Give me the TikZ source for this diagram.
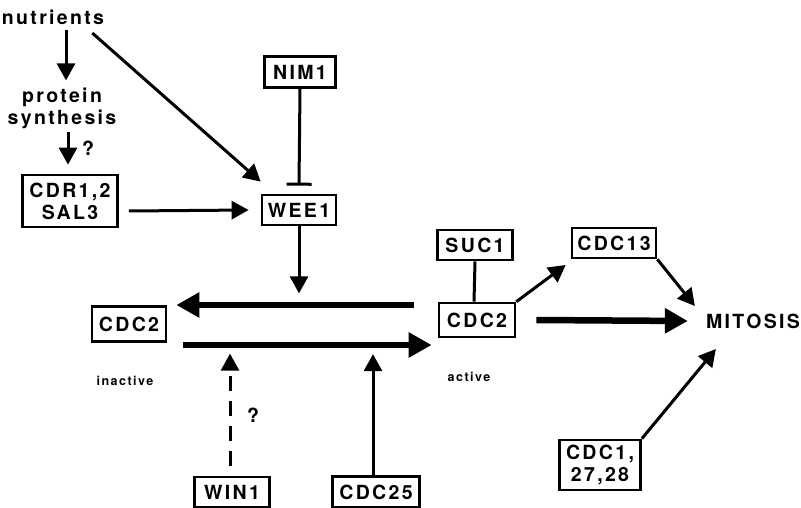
\documentclass[tikz,border=0pt]{standalone}
\usepackage{fontspec}
\setmainfont{TeX Gyre Heros}[LetterSpace=12]
\usetikzlibrary{arrows.meta}
\begin{document}
\begin{tikzpicture}[x=1pt,y=1pt,
  lbl/.style={font=\fontsize{19.5}{22}\selectfont\bfseries, inner sep=0pt, align=center},
  small/.style={font=\fontsize{12.5}{14}\selectfont\bfseries, inner sep=0pt},
  gene/.style={lbl, draw, line width=2.7pt, minimum width=#1},
  arr/.style={line width=3pt, -{Triangle[length=17pt,width=18pt]}},
  bigarr/.style={line width=6.5pt, -{Triangle[length=23pt,width=24pt]}},
  dasharr/.style={arr, dash pattern=on 15pt off 10pt},
  inhib/.style={line width=3pt, -{Bar[width=25pt,line width=3pt]}},
  plain/.style={line width=3pt}]
\useasboundingbox (0,0) rectangle (801,-508);

% labels and gene boxes
\node[lbl] (nut) at (53,-17) {nutrients};
\node[lbl] (prot) at (62,-108) {protein\\synthesis};
\node[lbl] (q1) at (88,-148) {?};
\node[gene=95pt, minimum height=52pt] (cdr) at (70,-201) {CDR1,2\\SAL3};
\node[gene=71pt, minimum height=31pt] (nim) at (300,-72) {NIM1};
\node[gene=74pt, minimum height=30pt] (wee) at (299,-210) {WEE1};
\node[gene=74pt, minimum height=35pt] (cdci) at (129,-324) {CDC2};
\node[small] (inact) at (125,-381) {inactive};
\node[gene=75pt, minimum height=30pt] (suc) at (475,-245) {SUC1};
\node[gene=76pt, minimum height=34pt] (cdca) at (477,-320) {CDC2};
\node[small] (act) at (469,-377) {active};
\node[gene=84pt, minimum height=30pt] (c13) at (614,-243) {CDC13};
\node[lbl] (mit) at (753,-321) {MITOSIS};
\node[gene=81pt, minimum height=50pt] (c1) at (600,-465) {CDC1,\\27,28};
\node[gene=75pt, minimum height=30pt] (win) at (232,-492) {WIN1};
\node[lbl] (q2) at (253,-415) {?};
\node[gene=87pt, minimum height=31pt] (c25) at (376,-492) {CDC25};

% upstream regulation of WEE1
\draw[arr] ([shift={(13,-5)}]nut.south) -- ([shift={(4,7)}]prot.north);
\draw[arr] ([shift={(6,-3)}]prot.south) -- ([shift={(-2,9)}]cdr.north);
\draw[arr] ([shift={(-12,-16)}]nut.east) -- ([shift={(0,12)}]wee.north west);
\draw[arr] ([shift={(10,-10)}]cdr.east) -- ([xshift=-12]wee.west);
\draw[inhib] (nim.south) -- ([yshift=8]wee.north);
\draw[arr] (wee.south) -- ([yshift=-67]wee.south);

% CDC2 interconversion
\draw[bigarr] ([shift={(-24,15)}]cdca.west) -- ([shift={(9,19)}]cdci.east);
\draw[bigarr] ([shift={(16,-21)}]cdci.east) -- ([shift={(-6,-25)}]cdca.west);
\draw[dasharr] ([shift={(-2,10)}]win.north) -- ([shift={(-2,122)}]win.north);
\draw[arr] ([xshift=-3]c25.north) -- ([shift={(-3,121)}]c25.north);

% active CDC2 to mitosis
\draw[plain] (suc.south) -- ([xshift=-3]cdca.north);
\draw[arr] (cdca.north east) -- ([shift={(-5,-22)}]c13.west);
\draw[bigarr] ([xshift=20]cdca.east) -- ([xshift=-18]mit.west);
\draw[arr] (c13.south east) -- ([shift={(-11,15)}]mit.west);
\draw[arr] (c1.north east) -- ([shift={(10,-28)}]mit.west);
\end{tikzpicture}
\end{document}
